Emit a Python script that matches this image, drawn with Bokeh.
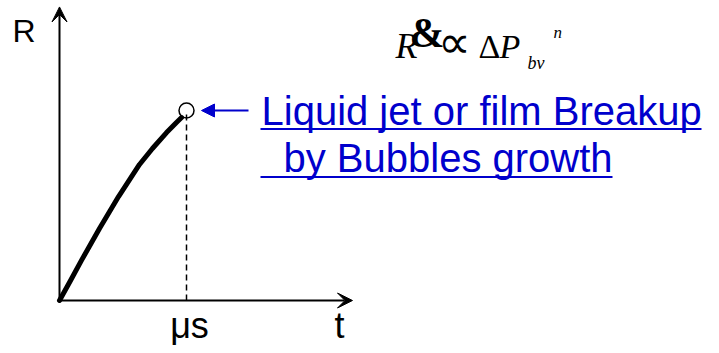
from bokeh.plotting import figure
from bokeh.models import Range1d, Arrow, VeeHead, NormalHead, ColumnDataSource
from bokeh.core.properties import value
from bokeh.embed import file_html
from bokeh.resources import INLINE

# ---- data (schematic, breakup time normalised to 1) ----
t_curve = [0.0, 0.087, 0.173, 0.315, 0.465, 0.630, 0.732, 0.843, 0.921, 0.961]
R_curve = [0.0, 0.105, 0.211, 0.379, 0.547, 0.716, 0.800, 0.884, 0.937, 0.963]
t_break = 1.0
R_break = 1.0
t_axis_end = 2.307
R_axis_end = 1.545
tick_label = "μs"
x_label = "t"
y_label = "R"
note_lines = ["Liquid jet or film Breakup", "by Bubbles growth"]
formula_text = ["R", "&", "∝", "Δ", "P", "bv", "n"]

# ---- layout ----
W, H = 711, 345
SX, SY = 127.0, 190.0          # pixels per unit
OX, OY = 59, 300               # origin inside the canvas (pixels)
BLUE = "#0000CC"
SANS = "Liberation Sans"
SERIF = "Liberation Serif"
SHIFT = 0.35                   # baseline correction (fraction of font size)


def tx(px):
    return (px - OX) / SX


def ry(py):
    return (OY - py) / SY


def base(py, size):
    return ry(py - SHIFT * size)


p = figure(width=W, height=H,
           x_range=Range1d(tx(0), tx(W)),
           y_range=Range1d(ry(H), ry(0)),
           output_backend="svg", toolbar_location=None,
           x_axis_location=None, y_axis_location=None, min_border=0)
p.grid.visible = False
p.outline_line_color = None
p.background_fill_color = "white"
p.border_fill_color = "white"

# axes with arrow heads
p.add_layout(Arrow(end=VeeHead(size=15, fill_color="black", line_color="black"),
                   x_start=0, y_start=0, x_end=t_axis_end, y_end=0,
                   line_width=2, line_color="black"))
p.add_layout(Arrow(end=VeeHead(size=15, fill_color="black", line_color="black"),
                   x_start=0, y_start=0, x_end=0, y_end=R_axis_end,
                   line_width=2, line_color="black"))

# dashed guide at breakup time
p.segment(x0=[t_break], y0=[0], x1=[t_break], y1=[R_break],
          line_dash="6 4", line_width=1.5, line_color="black")

# growth curve
p.line(t_curve, R_curve, line_width=5, line_color="black", line_cap="round",
       line_join="round")

# breakup point
p.scatter([t_break], [R_break], marker="circle", size=15,
          fill_alpha=0, line_color="black", line_width=1.5)

# blue pointer arrow
p.add_layout(Arrow(end=NormalHead(size=13, fill_color=BLUE, line_color=BLUE),
                   x_start=tx(248), y_start=R_break,
                   x_end=tx(201), y_end=R_break,
                   line_width=2, line_color=BLUE))

# blue underlined note
p.text(x=[tx(261), tx(283)],
       y=[base(124, 40), base(171, 40)],
       text=note_lines, text_font=value(SANS), text_font_size="40px",
       text_color=BLUE, text_align="left", text_baseline="alphabetic")
p.segment(x0=[tx(260), tx(260)], y0=[ry(128.5), ry(176.5)],
          x1=[tx(701), tx(612)], y1=[ry(128.5), ry(176.5)],
          line_width=2.2, line_color=BLUE)

# axis labels
p.text(x=[tx(12)], y=[base(42, 32)], text=[y_label], text_font=value(SANS),
       text_font_size="32px", text_color="black", text_baseline="alphabetic")
p.text(x=[tx(189)], y=[base(338, 36)], text=[tick_label], text_font=value(SANS),
       text_font_size="36px", text_color="black", text_align="center",
       text_baseline="alphabetic")
p.text(x=[tx(334)], y=[base(338, 36)], text=[x_label], text_font=value(SANS),
       text_font_size="36px", text_color="black", text_baseline="alphabetic")

# formula, pieces placed by pixel offsets from an anchor (left 395, baseline 58)
dx = [0, 14, 42, 83, 104, 132, 158]
dy = [0, -11, 0, 0, 0, 11, -20]
sizes = [36, 42, 46, 34, 34, 18, 17]
styles = ["italic", "bold", "normal", "normal", "italic", "italic", "italic"]
fonts = [SERIF, SERIF, SERIF, SERIF, SERIF, SERIF, SERIF]
fsrc = ColumnDataSource(dict(
    x=[tx(395 + d) for d in dx],
    y=[base(58 + d, s) for d, s in zip(dy, sizes)],
    text=formula_text, size=[f"{s}px" for s in sizes], style=styles, font=fonts))
p.text(x="x", y="y", text="text", source=fsrc, text_font="font",
       text_font_size="size", text_font_style="style", text_color="black",
       text_baseline="alphabetic", text_align="left")

open("out.html", "w").write(file_html(p, INLINE))
